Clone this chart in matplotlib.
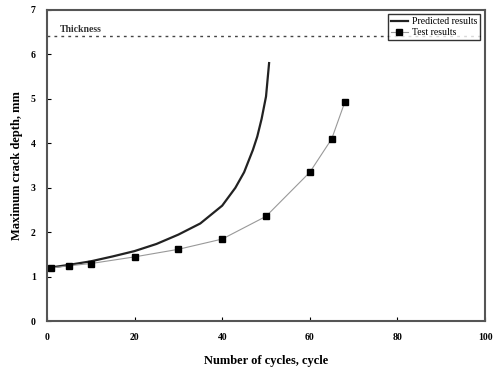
import matplotlib
matplotlib.use("Agg")
import matplotlib.pyplot as plt

plt.rcParams['font.family'] = ['Liberation Serif', 'DejaVu Serif']

# Predicted crack growth curve
pred_cycles = [0, 5, 10, 15, 20, 25, 30, 35, 40, 43, 45, 47, 48, 49, 50, 50.7]
pred_depth = [1.2, 1.27, 1.35, 1.46, 1.58, 1.74, 1.95, 2.2, 2.6, 3.0, 3.35, 3.85, 4.15, 4.55, 5.05, 5.8]

# Test measurements
test_cycles = [1, 5, 10, 20, 30, 40, 50, 60, 65, 68]
test_depth = [1.2, 1.25, 1.3, 1.45, 1.62, 1.85, 2.36, 3.35, 4.1, 4.93]

thickness = 6.4

fig = plt.figure(figsize=(4.94, 3.85), dpi=100)
ax = fig.add_axes([0.095, 0.165, 0.887, 0.81])

ax.plot(pred_cycles, pred_depth, color='#222222', lw=1.6, label='Predicted results')
ax.plot(test_cycles, test_depth, color='#999999', lw=0.8, marker='s', ms=5,
        mfc='black', mec='black', label='Test results')
ax.axhline(thickness, color='#444444', lw=1.0, ls=(0, (2, 3)))
ax.text(3, 6.5, 'Thickness', fontsize=7, fontweight='bold', color='#333333')

ax.set_xlim(0, 100)
ax.set_ylim(0, 7)
ax.set_xticks(range(0, 101, 20))
ax.set_yticks(range(0, 8))
ax.tick_params(direction='in', length=3, labelsize=7, pad=8)
for lbl in ax.get_xticklabels() + ax.get_yticklabels():
    lbl.set_fontweight('bold')
for s in ax.spines.values():
    s.set_linewidth(1.5)
    s.set_color('#555555')

ax.set_xlabel('Number of cycles, cycle', fontsize=9, fontweight='bold', labelpad=10)
ax.set_ylabel('Maximum crack depth, mm', fontsize=9, fontweight='bold', labelpad=6)

leg = ax.legend(loc='upper right', fontsize=7, frameon=True, fancybox=False,
                handlelength=1.8, borderpad=0.3, labelspacing=0.2,
                handletextpad=0.4)
leg.get_frame().set_edgecolor('black')
leg.get_frame().set_linewidth(1.0)

fig.savefig('out.png', dpi=100)
